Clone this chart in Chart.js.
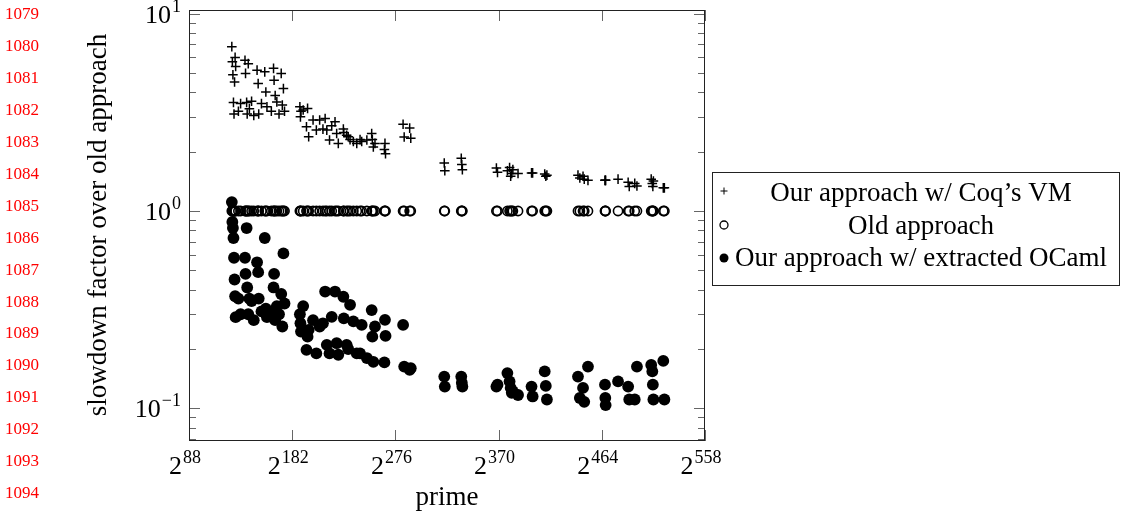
<!DOCTYPE html>
<html>
<head>
<meta charset="utf-8">
<script src="https://cdn.jsdelivr.net/npm/chart.js@4.4.1/dist/chart.umd.min.js"></script>
<style>
html,body{margin:0;padding:0;background:#fff;}
#wrap{position:relative;width:1128px;height:518px;}
</style>
</head>
<body>
<div id="wrap"><canvas id="c" width="1128" height="518"></canvas></div>
<script>
// log2 of each benchmarked prime
const primeBits = [
  127,127.5,128,128.5,129,129.5,130,130.5,133,135,139,139.5,140.5,141,142,143,145,147,150,151,151.5,154,157,158,159,163,165,165.5,166.5,168,170,172,173,174,175,
  189,189.5,190,192,195,196,197,201,204,207,210,212,213.5,216,218,221,222.5,224,228.6,229,231.6,233,234.7,237.7,240.8,243.8,245.3,250,254.4,255,255.9,257.4,266,266.5,267,
  283,284,289,290, 320.5,321, 336,336.5,337, 368,369,378,380,381,382,383,387.7, 400,401, 412,413,414, 442.3,444,446.9,448,451.4, 466.9,467.2,467.5, 478.8, 488,489,494,496, 509,510,510.5,511,520,521
];
const vmSlowdown = [
  6.8,5.7,4.9,3.55,3.1,4.5,6.0,5.4,3.2,3.5,5.8,4.98,3.55,3.1,5.58,3.3,3.6,3.05,5.17,4.42,3.1,3.5,5.07,4.01,3.37,3.2,5.28,4.6,3.85,3.57,3.1,4.98,3.44,4.17,3.2,
  3.37,3.0,3.2,3.25,2.67,3.31,2.38,2.89,2.57,2.89,2.6,2.94,2.57,2.29,2.7,2.83,2.47,2.2,2.6,2.5,2.42,2.38,2.3,2.25,2.2,2.3,2.25,2.29,2.47,2.3,2.11,2.2,2.05,2.2,1.95,
  2.75,2.37,2.63,2.34, 1.75,1.6, 1.85,1.72,1.62, 1.65,1.57,1.6,1.66,1.5,1.55,1.62,1.55, 1.56,1.56, 1.54,1.5,1.52, 1.52,1.47,1.5,1.45,1.43, 1.43,1.43,1.43, 1.45, 1.4,1.33,1.38,1.34, 1.45,1.38,1.33,1.42,1.31,1.31
];
const oldSlowdown = [
  1,1,1,1,1,1,1,1,1,1,1,1,1,1,1,1,1,1,1,1,1,1,1,1,1,1,1,1,1,1,1,1,1,1,1,
  1,1,1,1,1,1,1,1,1,1,1,1,1,1,1,1,1,1,1,1,1,1,1,1,1,1,1,1,1,1,1,1,1,1,1,
  1,1,1,1, 1,1, 1,1,1, 1,1,1,1,1,1,1,1, 1,1, 1,1,1, 1,1,1,1,1, 1,1,1, 1, 1,1,1,1, 1,1,1,1,1,1
];
const ocamlSlowdown = [
  1.11,0.88,0.82,0.73,0.58,0.45,0.37,0.29,0.36,0.30,0.58,0.48,0.82,0.41,0.30,0.36,0.35,0.28,0.55,0.49,0.36,0.31,0.73,0.32,0.29,0.31,0.41,0.48,0.28,0.33,0.30,0.38,0.26,0.61,0.34,
  0.30,0.27,0.245,0.33,0.198,0.231,0.25,0.28,0.19,0.26,0.27,0.391,0.21,0.19,0.291,0.391,0.214,0.187,0.368,0.286,0.21,0.20,0.335,0.276,0.19,0.19,0.265,0.18,0.315,0.231,0.172,0.26,0.171,0.281,0.233,
  0.265,0.163,0.157,0.16, 0.145,0.129, 0.145,0.135,0.129, 0.129,0.132,0.151,0.137,0.127,0.12,0.122,0.117, 0.129,0.115, 0.154,0.13,0.111, 0.145,0.113,0.127,0.108,0.163, 0.132,0.113,0.104, 0.137, 0.129,0.111,0.111,0.163, 0.166,0.154,0.132,0.111,0.174,0.111
];
const seriesNames = ["Our approach w/ Coq\u2019s VM", "Old approach", "Our approach w/ extracted OCaml"];
const xTickExponents = [88, 182, 276, 370, 464, 558];
const yTickExponents = [-1, 0, 1];
const xAxisTitle = "prime";
const yAxisTitle = "slowdown factor over old approach";
const lineNumbers = [1079,1080,1081,1082,1083,1084,1085,1086,1087,1088,1089,1090,1091,1092,1093,1094,1095];

const SERIF = '"Liberation Serif", "DejaVu Serif", serif';

function pts(ys) { return primeBits.map((b, i) => ({x: b, y: ys[i]})); }

function supLabel(ctx, base, exp, x, y, align) {
  ctx.font = '26px ' + SERIF; const wb = ctx.measureText(base).width;
  ctx.font = '18px ' + SERIF; const we = ctx.measureText(exp).width;
  const w = wb + 1 + we;
  const sx = align === 'right' ? x - w : (align === 'center' ? x - w / 2 : x);
  ctx.textAlign = 'left'; ctx.textBaseline = 'alphabetic';
  ctx.font = '26px ' + SERIF; ctx.fillText(base, sx, y);
  ctx.font = '18px ' + SERIF; ctx.fillText(exp, sx + wb + 1, y - 11);
}

function drawMarker(ctx, kind, cx, cy) {
  ctx.save();
  ctx.strokeStyle = '#000'; ctx.fillStyle = '#000';
  if (kind === 0) {
    ctx.lineWidth = 1;
    ctx.beginPath(); ctx.moveTo(cx - 3.5, cy); ctx.lineTo(cx + 3.5, cy); ctx.moveTo(cx, cy - 3.5); ctx.lineTo(cx, cy + 3.5); ctx.stroke();
  } else if (kind === 1) {
    ctx.lineWidth = 1.3;
    ctx.beginPath(); ctx.arc(cx, cy, 4, 0, Math.PI * 2); ctx.stroke();
  } else {
    ctx.beginPath(); ctx.arc(cx, cy, 4.5, 0, Math.PI * 2); ctx.fill();
  }
  ctx.restore();
}

const decor = {
  id: 'decor',
  beforeDatasetsDraw(chart) {
    const {ctx, chartArea: a, scales} = chart;
    const x = scales.x, y = scales.y;
    ctx.save();
    ctx.strokeStyle = '#666'; ctx.lineWidth = 1;
    const seg = (x1, y1, x2, y2) => { ctx.beginPath(); ctx.moveTo(x1, y1); ctx.lineTo(x2, y2); ctx.stroke(); };
    xTickExponents.forEach(e => {
      const px = Math.round(x.getPixelForValue(e)) + 0.5;
      seg(px, a.bottom, px, a.bottom - 11);
      seg(px, a.top, px, a.top + 11);
    });
    for (let d = -2; d <= 1; d++) {
      for (let m = 1; m <= 9; m++) {
        const v = m * Math.pow(10, d);
        if (v < y.min || v > y.max) continue;
        const py = Math.round(y.getPixelForValue(v)) + 0.5;
        const len = m === 1 ? 11 : 7;
        seg(a.left, py, a.left + len, py);
        seg(a.right, py, a.right - len, py);
      }
    }
    ctx.strokeStyle = '#222';
    ctx.strokeRect(a.left + 0.5, a.top + 0.5, a.right - a.left - 1, a.bottom - a.top - 1);
    ctx.restore();
  },
  afterDraw(chart) {
    const {ctx, chartArea: a, scales} = chart;
    const x = scales.x, y = scales.y;
    ctx.save();
    ctx.fillStyle = '#000';
    // y tick labels
    yTickExponents.forEach(e => {
      const py = y.getPixelForValue(Math.pow(10, e));
      supLabel(ctx, '10', e < 0 ? '\u2212' + (-e) : String(e), a.left - 8, py + 9, 'right');
    });
    // x tick labels
    xTickExponents.forEach(e => {
      const px = x.getPixelForValue(e);
      supLabel(ctx, '2', String(e), px - 4, 474, 'center');
    });
    // axis titles
    ctx.font = '27px ' + SERIF;
    ctx.textAlign = 'center'; ctx.textBaseline = 'alphabetic';
    ctx.fillText(xAxisTitle, (a.left + a.right) / 2, 505);
    ctx.save();
    ctx.translate(106, 225);
    ctx.rotate(-Math.PI / 2);
    ctx.fillText(yAxisTitle, 0, 0);
    ctx.restore();
    // legend
    const lx = 712, ly = 172, lw = 407, lh = 113;
    ctx.fillStyle = '#fff'; ctx.fillRect(lx, ly, lw, lh);
    ctx.strokeStyle = '#222'; ctx.lineWidth = 1;
    ctx.strokeRect(lx + 0.5, ly + 0.5, lw, lh);
    ctx.fillStyle = '#000';
    const rows = [191, 225, 258];
    const bases = [201, 234, 266];
    seriesNames.forEach((n, i) => {
      drawMarker(ctx, i, 724, rows[i]);
      ctx.font = '27px ' + SERIF;
      ctx.textAlign = 'center'; ctx.textBaseline = 'alphabetic';
      ctx.fillText(n, 921, bases[i]);
    });
    // line numbers
    ctx.fillStyle = '#ff0000';
    ctx.font = '17px ' + SERIF;
    ctx.textAlign = 'right'; ctx.textBaseline = 'middle';
    lineNumbers.forEach((n, i) => ctx.fillText(String(n), 39, 15 + i * 31.9));
    ctx.restore();
  }
};

new Chart(document.getElementById('c'), {
  type: 'scatter',
  data: {
    datasets: [
      { label: seriesNames[0], data: pts(vmSlowdown), pointStyle: 'cross', pointRadius: 4.8, pointBorderWidth: 1.5,
        borderColor: '#000', backgroundColor: '#000', order: 3 },
      { label: seriesNames[1], data: pts(oldSlowdown), pointStyle: 'circle', pointRadius: 4.6, pointBorderWidth: 1.6,
        borderColor: '#000', backgroundColor: 'rgba(0,0,0,0)', order: 2 },
      { label: seriesNames[2], data: pts(ocamlSlowdown), pointStyle: 'circle', pointRadius: 5.9, pointBorderWidth: 0,
        borderColor: '#000', backgroundColor: '#000', order: 1 }
    ]
  },
  options: {
    responsive: false,
    animation: false,
    devicePixelRatio: 1,
    layout: { padding: { left: 189, right: 423, top: 10, bottom: 77 } },
    plugins: { legend: { display: false }, tooltip: { enabled: false } },
    scales: {
      x: { type: 'linear', min: 88, max: 558, display: false },
      y: { type: 'logarithmic', min: 0.0684, max: 10.43, display: false }
    },
    elements: { point: { hoverRadius: 6 } }
  },
  plugins: [decor]
});
</script>
</body>
</html>
